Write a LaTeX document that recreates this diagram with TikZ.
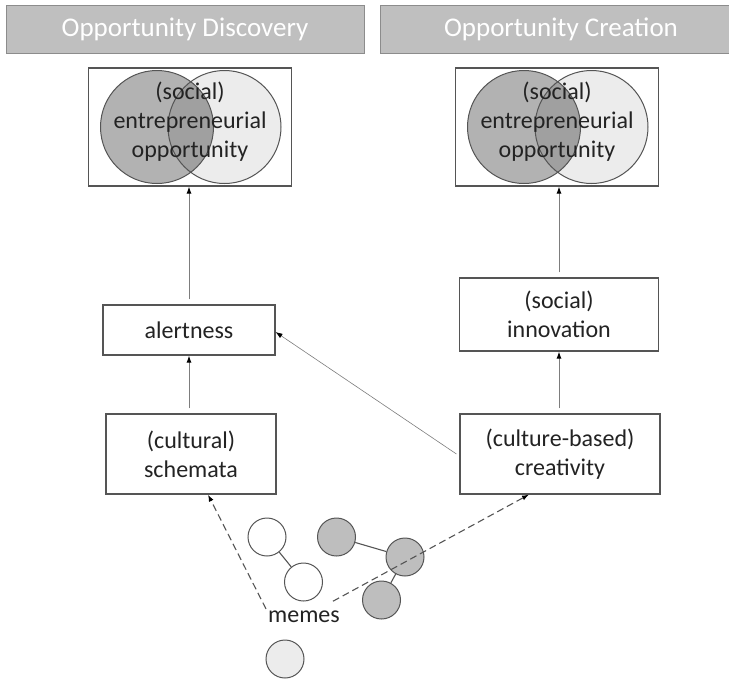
\documentclass[tikz,border=0pt]{standalone}
\usepackage{fontspec}
\setmainfont{Carlito}
\usetikzlibrary{arrows.meta}
\definecolor{headfill}{RGB}{191,191,191}
\definecolor{headline}{RGB}{140,140,140}
\definecolor{boxline}{RGB}{85,85,85}
\definecolor{txt}{RGB}{35,35,35}
\definecolor{darkfill}{RGB}{178,178,178}
\definecolor{lightfill}{RGB}{236,236,236}
\definecolor{overlapfill}{RGB}{160,160,160}
\definecolor{memefill}{RGB}{190,190,190}
\definecolor{linkline}{RGB}{125,125,125}

\begin{document}
\begin{tikzpicture}[x=1pt, y=-1pt,
    head/.style={draw=headline, line width=1pt, fill=headfill, text=white, inner sep=0pt,
      minimum height=48pt, font=\fontsize{27}{32}\selectfont},
    box/.style={draw=boxline, line width=1.1pt, fill=white, text=txt, align=center, inner sep=0pt,
      font=\fontsize{24}{29}\selectfont},
    venntext/.style={text=txt, align=center, inner sep=0pt, font=\fontsize{24}{29}\selectfont},
    meme/.style={circle, draw=boxline, line width=1pt, minimum size=38pt, inner sep=0pt},
    link/.style={draw=linkline, line width=1pt, shorten <=5pt, -{Latex[length=7pt,width=5pt,color=black]}},
    thinlink/.style={draw=linkline, line width=0.6pt, -{Latex[length=7pt,width=5pt,color=black]}},
    dashlink/.style={draw=boxline, line width=1.1pt, dash pattern=on 7pt off 4pt, -{Latex[length=7pt,width=5pt,color=black]}},
    memelink/.style={draw=boxline, line width=1.1pt}]
  \useasboundingbox (0,0) rectangle (729,681);
  \node[head, minimum width=358pt] (hdisc) at (185,29) {Opportunity Discovery};
  \node[head, minimum width=362pt] (hcrea) at (561,29) {Opportunity Creation};
  \foreach \cx/\nm in {190/venL, 557/venR} {
    \node[box, minimum width=203pt, minimum height=118pt] (\nm) at (\cx,127) {};
    \fill[darkfill] (\cx-33,127) circle (56.5pt);
    \fill[lightfill] (\cx+34.5,127) circle (56.5pt);
    \begin{scope}
      \clip (\cx-33,127) circle (56.5pt);
      \fill[overlapfill] (\cx+34.5,127) circle (56.5pt);
    \end{scope}
    \draw[boxline, line width=1pt] (\cx-33,127) circle (56.5pt) (\cx+34.5,127) circle (56.5pt);
    \node[venntext] at (\cx,122) {(social)\\entrepreneurial\\opportunity};
  }
  \node[box, minimum width=172pt, minimum height=50pt] (alert) at (189,330) {alertness};
  \node[box, minimum width=170pt, minimum height=80pt] (schem) at (191,454) {(cultural)\\schemata};
  \node[box, minimum width=199pt, minimum height=73pt] (innov) at (559,314.5) {(social)\\innovation};
  \node[box, minimum width=200pt, minimum height=80pt] (creat) at (560,454) {(culture-based)\\creativity};
  \draw[link] (alert.north) -- (alert.north |- venL.south);
  \draw[link] (alert.south |- schem.north) -- (alert.south);
  \draw[link] (innov.north) -- (innov.north |- venR.south);
  \draw[link] (innov.south |- creat.north) -- (innov.south);
  \draw[thinlink] ([xshift=-3pt]creat.west) -- ([yshift=-2pt]alert.east);
  \node[meme, fill=white] (w1) at (267,537) {};
  \node[meme, fill=white] (w2) at (303.5,582) {};
  \node[meme, fill=memefill] (g1) at (336.5,537) {};
  \node[meme, fill=memefill] (g2) at (405,557) {};
  \node[meme, fill=memefill] (g3) at (381.5,600) {};
  \node[meme, fill=lightfill] (l1) at (285,659) {};
  \draw[memelink] (w1) -- (w2) (g1) -- (g2) (g2) -- (g3);
  \node[text=txt, inner sep=2pt, font=\fontsize{24}{29}\selectfont] (memes) at (304,617) {memes};
  \draw[dashlink] (memes.north west) -- ([xshift=17pt]schem.south);
  \draw[dashlink, shorten <=33pt] (memes.center) -- ([xshift=-31pt]creat.south);
\end{tikzpicture}
\end{document}
